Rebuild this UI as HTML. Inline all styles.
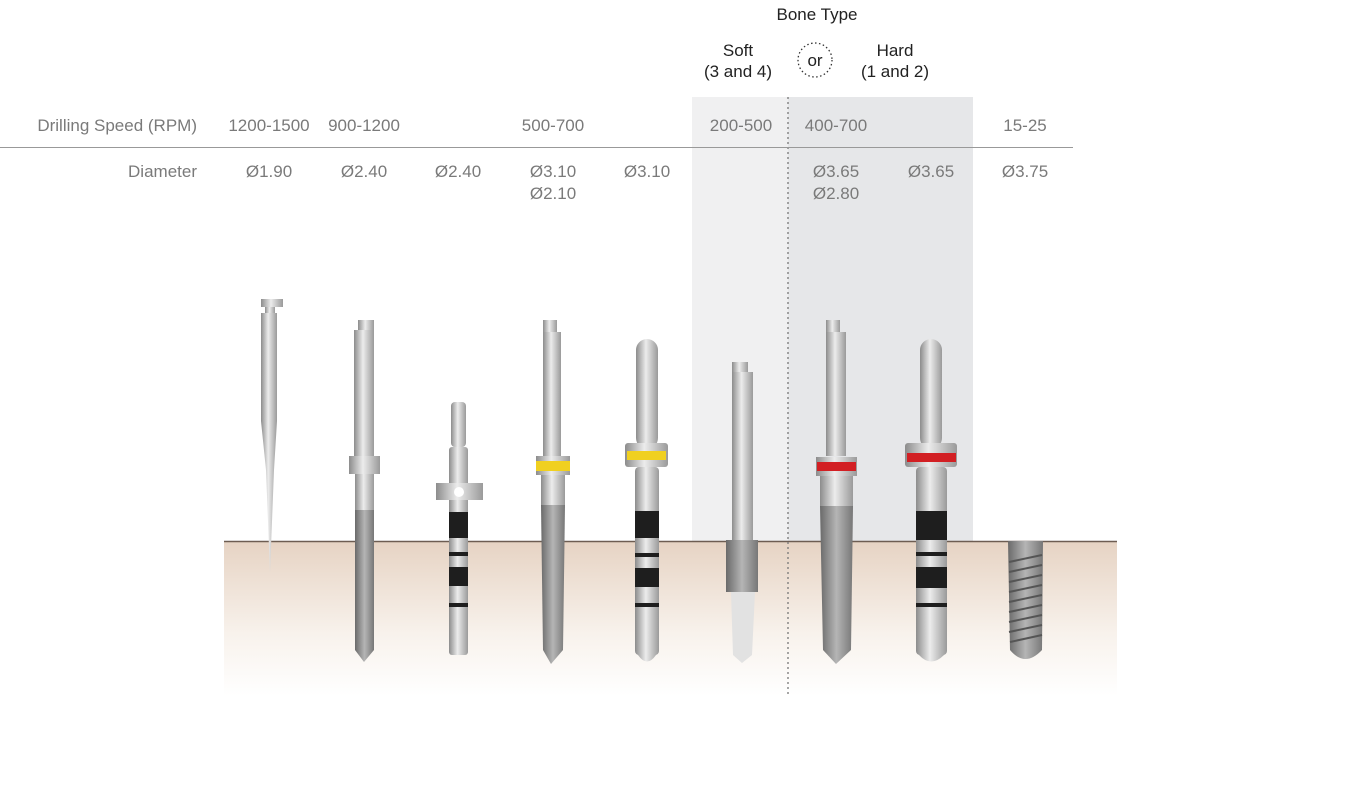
<!DOCTYPE html>
<html><head><meta charset="utf-8"><style>
html,body{margin:0;padding:0;background:#fff;}
svg{display:block;font-family:"Liberation Sans",sans-serif;}
.t{fill:#7a7a7a;font-size:17px;}
.d{fill:#222;font-size:17px;}
</style></head><body>
<svg width="1367" height="792" viewBox="0 0 1367 792" xmlns="http://www.w3.org/2000/svg">
<defs>
<linearGradient id="m" x1="0" x2="1" y1="0" y2="0">
<stop offset="0" stop-color="#8c8c8c"/><stop offset="0.45" stop-color="#ececec"/><stop offset="1" stop-color="#9a9a9a"/></linearGradient>
<linearGradient id="dk" x1="0" x2="1"><stop offset="0" stop-color="#6a6a6a"/><stop offset="0.5" stop-color="#b5b5b5"/><stop offset="1" stop-color="#777"/></linearGradient>
<linearGradient id="gr" x1="0" x2="0" y1="0" y2="1"><stop offset="0" stop-color="#e6d3c3"/><stop offset="0.6" stop-color="#f8f2ec"/><stop offset="1" stop-color="#fff"/></linearGradient>
</defs>
<rect x="692" y="97" width="96" height="444" fill="#f0f0f1"/>
<rect x="788" y="97" width="185" height="444" fill="#e6e7e9"/>
<rect x="224" y="541" width="893" height="155" fill="url(#gr)"/>
<line x1="224" y1="541.5" x2="1117" y2="541.5" stroke="#6d5d52" stroke-width="1.5"/>
<line x1="788" y1="97" x2="788" y2="695" stroke="#777" stroke-width="1.3" stroke-dasharray="2,3"/>
<line x1="0" y1="147.5" x2="1073" y2="147.5" stroke="#999" stroke-width="1"/>
<text class="d" x="817" y="20" text-anchor="middle">Bone Type</text>
<text class="d" x="738" y="56" text-anchor="middle">Soft</text>
<text class="d" x="738" y="77" text-anchor="middle">(3 and 4)</text>
<circle cx="815" cy="60" r="17" fill="none" stroke="#333" stroke-width="1.3" stroke-dasharray="1.5,2.5"/>
<text class="d" x="815" y="66" text-anchor="middle">or</text>
<text class="d" x="895" y="56" text-anchor="middle">Hard</text>
<text class="d" x="895" y="77" text-anchor="middle">(1 and 2)</text>
<text class="t" x="197" y="131" text-anchor="end">Drilling Speed (RPM)</text>
<text class="t" x="269" y="131" text-anchor="middle">1200-1500</text>
<text class="t" x="364" y="131" text-anchor="middle">900-1200</text>
<text class="t" x="553" y="131" text-anchor="middle">500-700</text>
<text class="t" x="741" y="131" text-anchor="middle">200-500</text>
<text class="t" x="836" y="131" text-anchor="middle">400-700</text>
<text class="t" x="1025" y="131" text-anchor="middle">15-25</text>
<text class="t" x="197" y="177" text-anchor="end">Diameter</text>
<text class="t" x="269" y="177" text-anchor="middle">Ø1.90</text>
<text class="t" x="364" y="177" text-anchor="middle">Ø2.40</text>
<text class="t" x="458" y="177" text-anchor="middle">Ø2.40</text>
<text class="t" x="553" y="177" text-anchor="middle">Ø3.10</text>
<text class="t" x="553" y="199" text-anchor="middle">Ø2.10</text>
<text class="t" x="647" y="177" text-anchor="middle">Ø3.10</text>
<text class="t" x="836" y="177" text-anchor="middle">Ø3.65</text>
<text class="t" x="836" y="199" text-anchor="middle">Ø2.80</text>
<text class="t" x="931" y="177" text-anchor="middle">Ø3.65</text>
<text class="t" x="1025" y="177" text-anchor="middle">Ø3.75</text>

<!-- drill 1 -->
<rect x="261" y="299" width="22" height="8" fill="url(#m)"/>
<rect x="265" y="307" width="10" height="6" fill="url(#m)"/>
<rect x="261" y="313" width="16" height="108" fill="url(#m)"/>
<polygon points="261,421 277,421 274,470 270,573 266,470" fill="url(#m)"/>
<!-- drill 2 -->
<rect x="358" y="320" width="16" height="10" fill="url(#m)"/>
<rect x="354" y="330" width="20" height="126" fill="url(#m)"/>
<rect x="349" y="456" width="31" height="18" fill="url(#m)"/>
<rect x="355" y="474" width="19" height="36" fill="url(#m)"/>
<polygon points="355,510 374,510 374,650 364,662 355,650" fill="url(#dk)"/>
<!-- drill 3 -->
<rect x="451" y="402" width="15" height="45" rx="4" fill="url(#m)"/>
<rect x="449" y="447" width="19" height="208" rx="3" fill="url(#m)"/>
<rect x="436" y="483" width="47" height="17" fill="url(#m)"/>
<circle cx="459" cy="492" r="5" fill="#fff"/>
<rect x="449" y="512" width="19" height="26" fill="#1e1e1e"/>
<rect x="449" y="552" width="19" height="4" fill="#1e1e1e"/>
<rect x="449" y="567" width="19" height="19" fill="#1e1e1e"/>
<rect x="449" y="603" width="19" height="4" fill="#1e1e1e"/>
<!-- drill 4 -->
<rect x="543" y="320" width="14" height="12" fill="url(#m)"/>
<rect x="543" y="332" width="18" height="124" fill="url(#m)"/>
<rect x="536" y="456" width="34" height="19" fill="url(#m)"/>
<rect x="536" y="461" width="34" height="10" fill="#f0d020"/>
<rect x="541" y="475" width="24" height="30" fill="url(#m)"/>
<polygon points="541,505 565,505 563,650 551,664 543,650" fill="url(#dk)"/>
<!-- drill 5 -->
<rect x="636" y="339" width="22" height="110" rx="11" fill="url(#m)"/>
<rect x="625" y="443" width="43" height="24" rx="3" fill="url(#m)"/>
<rect x="627" y="451" width="39" height="9" fill="#f0d020"/>
<rect x="635" y="467" width="24" height="188" rx="4" fill="url(#m)"/>
<rect x="635" y="511" width="24" height="27" fill="#1e1e1e"/>
<rect x="635" y="553" width="24" height="4" fill="#1e1e1e"/>
<rect x="635" y="568" width="24" height="19" fill="#1e1e1e"/>
<rect x="635" y="603" width="24" height="4" fill="#1e1e1e"/>
<path d="M635,620 L659,620 L656,655 Q647,668 638,655 Z" fill="url(#m)"/>
<!-- drill 6 -->
<rect x="732" y="362" width="16" height="10" fill="url(#m)"/>
<rect x="732" y="372" width="21" height="168" fill="url(#m)"/>
<rect x="726" y="540" width="32" height="52" fill="url(#dk)"/>
<polygon points="731,592 755,592 752,655 742,663 733,655" fill="#e2e2e2"/>
<!-- drill 7 -->
<rect x="826" y="320" width="14" height="12" fill="url(#m)"/>
<rect x="826" y="332" width="20" height="124" fill="url(#m)"/>
<rect x="816" y="457" width="41" height="19" fill="url(#m)"/>
<rect x="817" y="462" width="39" height="9" fill="#d21f23"/>
<rect x="820" y="476" width="33" height="30" fill="url(#m)"/>
<polygon points="820,506 853,506 851,650 836,664 823,650" fill="url(#dk)"/>
<!-- drill 8 -->
<rect x="920" y="339" width="22" height="110" rx="11" fill="url(#m)"/>
<rect x="905" y="443" width="52" height="24" rx="3" fill="url(#m)"/>
<rect x="907" y="453" width="49" height="9" fill="#d21f23"/>
<rect x="916" y="467" width="31" height="188" rx="4" fill="url(#m)"/>
<rect x="916" y="511" width="31" height="29" fill="#1e1e1e"/>
<rect x="916" y="552" width="31" height="4" fill="#1e1e1e"/>
<rect x="916" y="567" width="31" height="21" fill="#1e1e1e"/>
<rect x="916" y="603" width="31" height="4" fill="#1e1e1e"/>
<path d="M916,620 L947,620 L944,655 Q931,668 919,655 Z" fill="url(#m)"/>
<!-- implant -->
<path d="M1008,541 L1043,541 L1042,650 Q1025,668 1010,650 Z" fill="url(#dk)"/>
<g stroke="#555" stroke-width="2">
<line x1="1009" y1="562" x2="1042" y2="555"/><line x1="1009" y1="572" x2="1042" y2="565"/>
<line x1="1009" y1="582" x2="1042" y2="575"/><line x1="1009" y1="592" x2="1042" y2="585"/>
<line x1="1009" y1="602" x2="1042" y2="595"/><line x1="1009" y1="612" x2="1042" y2="605"/>
<line x1="1009" y1="622" x2="1042" y2="615"/><line x1="1009" y1="632" x2="1042" y2="625"/>
<line x1="1010" y1="642" x2="1042" y2="635"/>
</g>
</svg>
</body></html>
